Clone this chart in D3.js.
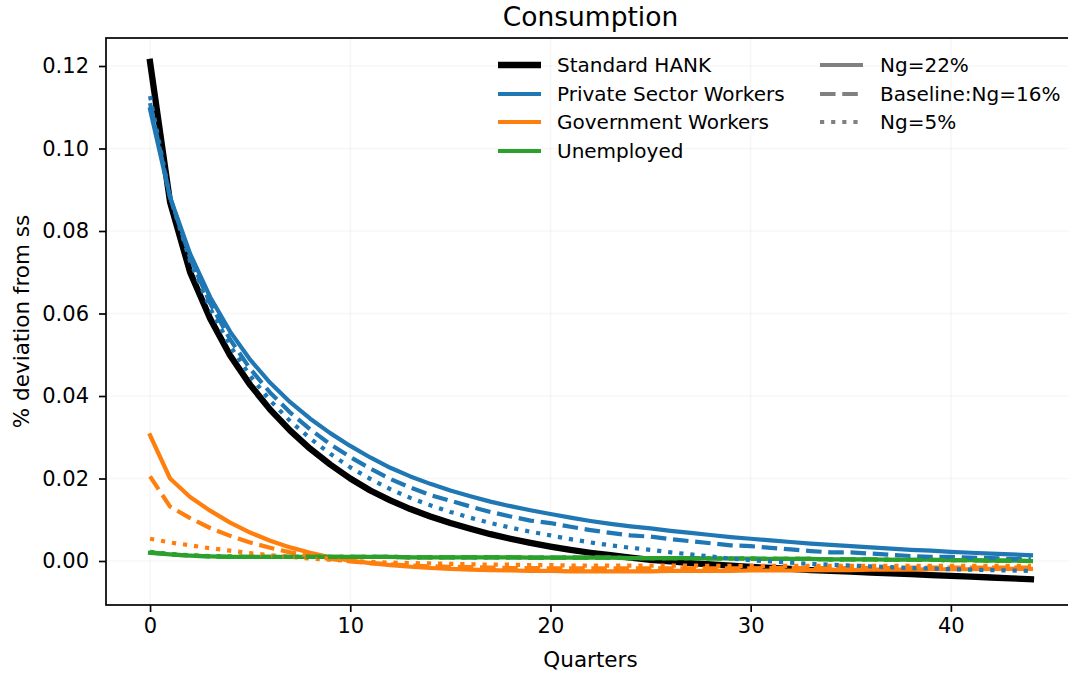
<!DOCTYPE html>
<html>
<head>
<meta charset="utf-8">
<script src="https://cdn.jsdelivr.net/npm/d3@7/dist/d3.min.js"></script>
<style>
  html, body { margin: 0; padding: 0; background: #ffffff; }
  svg { display: block; font-family: "DejaVu Sans", sans-serif; }
</style>
</head>
<body>
<svg id="chart" width="1068" height="674"></svg>
<script>
// Quarters after the shock
const quarters = d3.range(0, 45);

// Consumption response, % deviation from steady state
const standardHANK = [
  0.1210, 0.0870, 0.0700, 0.0588, 0.0498, 0.0427, 0.0367, 0.0316, 0.0272, 0.0234,
  0.0200, 0.0171, 0.0147, 0.0126, 0.0108, 0.0092, 0.0078, 0.0065, 0.0054, 0.0044,
  0.0035, 0.0027, 0.0020, 0.0014, 0.0008, 0.0003, -0.0001, -0.0005, -0.0008, -0.0011,
  -0.0014, -0.0017, -0.0019, -0.0022, -0.0024, -0.0026, -0.0028, -0.0030, -0.0032, -0.0034,
  -0.0036, -0.0038, -0.0040, -0.0042, -0.0044
];

const privateNg22 = [
  0.1095, 0.0882, 0.0745, 0.0640, 0.0556, 0.0488, 0.0432, 0.0385, 0.0345, 0.0310,
  0.0279, 0.0251, 0.0226, 0.0205, 0.0187, 0.0171, 0.0157, 0.0144, 0.0133, 0.0123,
  0.0114, 0.0105, 0.0097, 0.0090, 0.0084, 0.0079, 0.0073, 0.0068, 0.0063, 0.0058,
  0.0054, 0.0050, 0.0046, 0.0042, 0.0039, 0.0036, 0.0033, 0.0030, 0.0027, 0.0025,
  0.0022, 0.0020, 0.0018, 0.0016, 0.0014
];
const privateNg16 = [
  0.1110, 0.0882, 0.0735, 0.0625, 0.0537, 0.0466, 0.0408, 0.0360, 0.0319, 0.0283,
  0.0252, 0.0224, 0.0199, 0.0178, 0.0160, 0.0146, 0.0132, 0.0119, 0.0108, 0.0098,
  0.0092, 0.0083, 0.0075, 0.0068, 0.0062, 0.0059, 0.0053, 0.0048, 0.0043, 0.0038,
  0.0036, 0.0032, 0.0028, 0.0024, 0.0021, 0.0021, 0.0018, 0.0015, 0.0012, 0.0010,
  0.0010, 0.0008, 0.0007, 0.0005, 0.0004
];
const privateNg5 = [
  0.1127, 0.0882, 0.0727, 0.0613, 0.0522, 0.0449, 0.0389, 0.0339, 0.0297, 0.0260,
  0.0227, 0.0199, 0.0174, 0.0153, 0.0135, 0.0119, 0.0105, 0.0092, 0.0081, 0.0071,
  0.0062, 0.0053, 0.0045, 0.0038, 0.0032, 0.0027, 0.0021, 0.0016, 0.0011, 0.0006,
  0.0002, -0.0001, -0.0004, -0.0007, -0.0009, -0.0011, -0.0013, -0.0015, -0.0017, -0.0018,
  -0.0020, -0.0021, -0.0022, -0.0023, -0.0024
];

const govNg22 = [
  0.0305, 0.0200, 0.0155, 0.0122, 0.0093, 0.0069, 0.0049, 0.0033, 0.0020, 0.0009,
  0.0001, -0.0005, -0.0010, -0.0014, -0.0017, -0.0019, -0.0021, -0.0022, -0.0023, -0.0024,
  -0.0024, -0.0025, -0.0025, -0.0025, -0.0025, -0.0025, -0.0024, -0.0024, -0.0024, -0.0024,
  -0.0023, -0.0023, -0.0023, -0.0022, -0.0022, -0.0022, -0.0021, -0.0021, -0.0021, -0.0020,
  -0.0020, -0.0020, -0.0019, -0.0019, -0.0019
];
const govNg16 = [
  0.0205, 0.0132, 0.0104, 0.0080, 0.0061, 0.0045, 0.0032, 0.0021, 0.0012, 0.0005,
  -0.0001, -0.0005, -0.0008, -0.0011, -0.0013, -0.0014, -0.0015, -0.0016, -0.0017, -0.0017,
  -0.0018, -0.0018, -0.0018, -0.0018, -0.0018, -0.0018, -0.0018, -0.0018, -0.0018, -0.0018,
  -0.0018, -0.0017, -0.0017, -0.0017, -0.0017, -0.0017, -0.0017, -0.0017, -0.0016, -0.0016,
  -0.0016, -0.0016, -0.0016, -0.0016, -0.0016
];
const govNg5 = [
  0.0054, 0.0045, 0.0038, 0.0031, 0.0025, 0.0019, 0.0014, 0.0010, 0.0006, 0.0003,
  0.0000, -0.0002, -0.0004, -0.0005, -0.0006, -0.0007, -0.0008, -0.0009, -0.0009, -0.0010,
  -0.0010, -0.0011, -0.0011, -0.0011, -0.0011, -0.0011, -0.0011, -0.0011, -0.0012, -0.0012,
  -0.0012, -0.0012, -0.0012, -0.0012, -0.0012, -0.0012, -0.0012, -0.0012, -0.0012, -0.0012,
  -0.0012, -0.0012, -0.0012, -0.0012, -0.0012
];

const unempNg22 = [
  0.0020, 0.0016, 0.0013, 0.0011, 0.0010, 0.0010, 0.0010, 0.0010, 0.0010, 0.0010,
  0.0010, 0.0010, 0.0010, 0.0009, 0.0009, 0.0009, 0.0009, 0.0009, 0.0009, 0.0008,
  0.0008, 0.0008, 0.0008, 0.0008, 0.0007, 0.0007, 0.0007, 0.0007, 0.0006, 0.0006,
  0.0006, 0.0005, 0.0005, 0.0005, 0.0004, 0.0004, 0.0004, 0.0003, 0.0003, 0.0003,
  0.0002, 0.0002, 0.0001, 0.0001, 0.0000
];
const unempNg16 = [
  0.0021, 0.0016, 0.0013, 0.0011, 0.0010, 0.0010, 0.0010, 0.0010, 0.0010, 0.0010,
  0.0010, 0.0010, 0.0010, 0.0009, 0.0009, 0.0009, 0.0009, 0.0009, 0.0009, 0.0008,
  0.0008, 0.0008, 0.0008, 0.0008, 0.0007, 0.0007, 0.0007, 0.0007, 0.0006, 0.0006,
  0.0006, 0.0005, 0.0005, 0.0005, 0.0004, 0.0004, 0.0004, 0.0003, 0.0003, 0.0003,
  0.0002, 0.0002, 0.0001, 0.0001, 0.0000
];
const unempNg5 = [
  0.0022, 0.0017, 0.0014, 0.0012, 0.0011, 0.0010, 0.0010, 0.0010, 0.0010, 0.0010,
  0.0010, 0.0010, 0.0010, 0.0009, 0.0009, 0.0009, 0.0009, 0.0009, 0.0009, 0.0008,
  0.0008, 0.0008, 0.0008, 0.0008, 0.0007, 0.0007, 0.0007, 0.0007, 0.0006, 0.0006,
  0.0006, 0.0005, 0.0005, 0.0005, 0.0004, 0.0004, 0.0004, 0.0003, 0.0003, 0.0003,
  0.0002, 0.0002, 0.0001, 0.0001, 0.0000
];

// Axis ticks
const xTicks = [0, 10, 20, 30, 40];
const yTicks = [0.00, 0.02, 0.04, 0.06, 0.08, 0.10, 0.12];

// Legend entries
const groupNames = ["Standard HANK", "Private Sector Workers", "Government Workers", "Unemployed"];
const shareNames = ["Ng=22%", "Baseline:Ng=16%", "Ng=5%"];

// ---------------------------------------------------------------
(function draw() {
  const colors = {
    hank: "#000000",
    priv: "#1f77b4",
    gov: "#ff7f0e",
    unemp: "#2ca02c",
    gray: "#808080"
  };
  const lw = 4.2;          // regular line width
  const lwThick = 6.3;     // Standard HANK line width
  const dashFor = w => ({ solid: null, dashed: `${3.7 * w} ${1.6 * w}`, dotted: `${1 * w} ${1.65 * w}` });

  const svg = d3.select("#chart");
  const m = { left: 106, right: 1075, top: 38, bottom: 605 };

  const x = d3.scaleLinear().domain([-2.2, 46.2]).range([m.left, m.right]);
  const y = d3.scaleLinear().domain([-0.010667, 0.126788]).range([m.bottom, m.top]);

  svg.append("defs").append("clipPath").attr("id", "plotArea")
    .append("rect").attr("x", m.left).attr("y", m.top)
    .attr("width", m.right - m.left).attr("height", m.bottom - m.top);

  // faint grid
  const grid = svg.append("g");
  grid.selectAll("line.gx").data(xTicks).join("line").attr("class", "gx")
    .attr("x1", d => x(d)).attr("x2", d => x(d))
    .attr("y1", m.top).attr("y2", m.bottom)
    .attr("stroke", "#b0b0b0").attr("stroke-opacity", 0.1).attr("stroke-width", 1.7);
  grid.selectAll("line.gy").data(yTicks).join("line").attr("class", "gy")
    .attr("x1", m.left).attr("x2", m.right)
    .attr("y1", d => y(d)).attr("y2", d => y(d))
    .attr("stroke", "#b0b0b0").attr("stroke-opacity", 0.1).attr("stroke-width", 1.7);

  // series
  const line = d3.line().x((d, i) => x(quarters[i])).y(d => y(d));
  const plot = svg.append("g").attr("clip-path", "url(#plotArea)");

  const series = [
    { values: standardHANK, color: colors.hank, width: lwThick, style: "solid" },
    { values: privateNg22, color: colors.priv, width: lw, style: "solid" },
    { values: govNg22, color: colors.gov, width: lw, style: "solid" },
    { values: unempNg22, color: colors.unemp, width: lw, style: "solid" },
    { values: privateNg16, color: colors.priv, width: lw, style: "dashed" },
    { values: govNg16, color: colors.gov, width: lw, style: "dashed" },
    { values: unempNg16, color: colors.unemp, width: lw, style: "dashed" },
    { values: privateNg5, color: colors.priv, width: lw, style: "dotted" },
    { values: govNg5, color: colors.gov, width: lw, style: "dotted" },
    { values: unempNg5, color: colors.unemp, width: lw, style: "dotted" }
  ];

  plot.selectAll("path.series").data(series).join("path")
    .attr("class", "series")
    .attr("d", d => line(d.values))
    .attr("fill", "none")
    .attr("stroke", d => d.color)
    .attr("stroke-width", d => d.width)
    .attr("stroke-dasharray", d => dashFor(d.width)[d.style])
    .attr("stroke-linejoin", "round")
    .attr("stroke-linecap", d => d.style === "solid" ? "square" : "butt");

  // axes
  const tickFont = 21;
  const labelFont = 21.5;
  const legendFont = 20;
  const xAxis = svg.append("g").attr("transform", `translate(0,${m.bottom})`)
    .call(d3.axisBottom(x).tickValues(xTicks).tickFormat(d3.format("d")).tickSize(7).tickPadding(6));
  const yAxis = svg.append("g").attr("transform", `translate(${m.left},0)`)
    .call(d3.axisLeft(y).tickValues(yTicks).tickFormat(d3.format(".2f")).tickSize(7).tickPadding(10));
  [xAxis, yAxis].forEach(g => {
    g.select(".domain").remove();
    g.selectAll(".tick line").attr("stroke", "#000").attr("stroke-width", 1.7);
    g.selectAll(".tick text").attr("fill", "#000")
      .attr("font-family", "DejaVu Sans").attr("font-size", tickFont);
  });

  // spines
  svg.append("rect").attr("x", m.left).attr("y", m.top)
    .attr("width", m.right - m.left).attr("height", m.bottom - m.top)
    .attr("fill", "none").attr("stroke", "#000").attr("stroke-width", 1.7);

  // titles
  svg.append("text").attr("x", (m.left + m.right) / 2).attr("y", 26)
    .attr("text-anchor", "middle").attr("font-size", 26.5).text("Consumption");
  svg.append("text").attr("x", (m.left + m.right) / 2).attr("y", 667)
    .attr("text-anchor", "middle").attr("font-size", labelFont).text("Quarters");
  svg.append("text")
    .attr("transform", `translate(29,${(m.top + m.bottom) / 2}) rotate(-90)`)
    .attr("text-anchor", "middle").attr("font-size", labelFont).text("% deviation from ss");

  // legend
  const legend = svg.append("g");
  const rowY = [65, 94, 122, 151];
  const groupStyles = [
    { color: colors.hank, width: lwThick },
    { color: colors.priv, width: lw },
    { color: colors.gov, width: lw },
    { color: colors.unemp, width: lw }
  ];
  groupNames.forEach((name, i) => {
    legend.append("line").attr("x1", 498).attr("x2", 541)
      .attr("y1", rowY[i]).attr("y2", rowY[i])
      .attr("stroke", groupStyles[i].color).attr("stroke-width", groupStyles[i].width);
    legend.append("text").attr("x", 557).attr("y", rowY[i])
      .attr("dominant-baseline", "central").attr("font-size", legendFont).text(name);
  });
  const shareStyles = ["solid", "dashed", "dotted"];
  shareNames.forEach((name, i) => {
    legend.append("line").attr("x1", 820).attr("x2", 863)
      .attr("y1", rowY[i]).attr("y2", rowY[i])
      .attr("stroke", colors.gray).attr("stroke-width", lw)
      .attr("stroke-dasharray", dashFor(lw)[shareStyles[i]]);
    legend.append("text").attr("x", 880).attr("y", rowY[i])
      .attr("dominant-baseline", "central").attr("font-size", legendFont).text(name);
  });
})();
</script>
</body>
</html>
